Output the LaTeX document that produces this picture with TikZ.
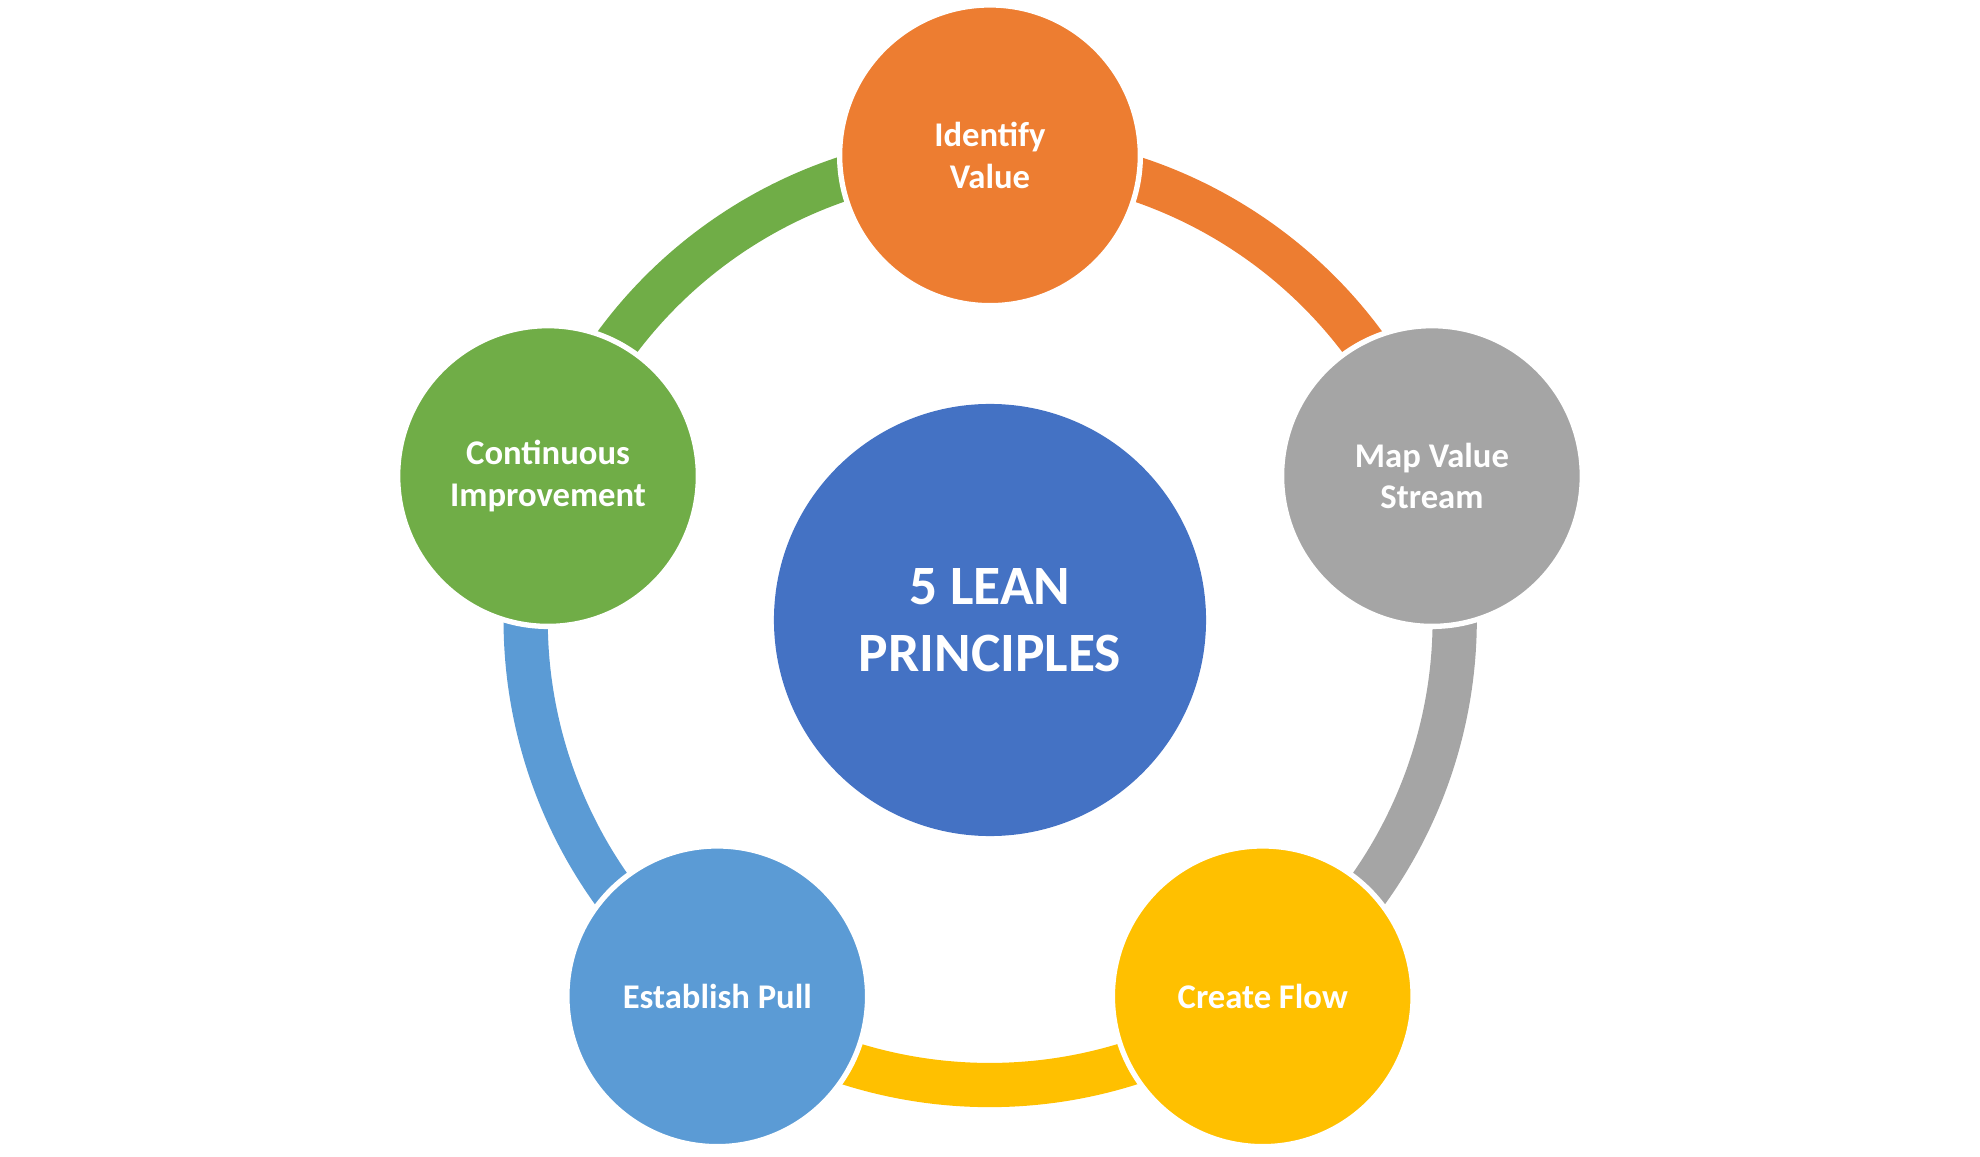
\documentclass[tikz,border=0pt]{standalone}
\usepackage{fontspec}
\setmainfont{Carlito}
\definecolor{cOr}{HTML}{ED7D31}
\definecolor{cGr}{HTML}{A5A5A5}
\definecolor{cYe}{HTML}{FFC000}
\definecolor{cBl}{HTML}{5B9BD5}
\definecolor{cGn}{HTML}{70AD47}
\definecolor{cCe}{HTML}{4472C4}
\begin{document}
\begin{tikzpicture}[x=0.01cm,y=-0.01cm,
  small/.style={circle,minimum size=2.38cm,inner sep=0pt,draw=white,line width=1.2pt,text=white,font=\bfseries\fontsize{7.8}{9.4}\selectfont,align=center},
  band/.style={line width=0.35cm}]
\useasboundingbox (0,0) rectangle (1568,916);
\coordinate (c) at (784,491);
\draw[band,cOr] (784,123) arc[start angle=-90,end angle=-18,radius=368];
\draw[band,cGr] (1134,377) arc[start angle=-18,end angle=54,radius=368];
\draw[band,cYe] (1000,789) arc[start angle=54,end angle=126,radius=368];
\draw[band,cBl] (568,789) arc[start angle=126,end angle=198,radius=368];
\draw[band,cGn] (434,377) arc[start angle=198,end angle=270,radius=368];
\node[small,fill=cOr] (iv) at (784,123) {Identify\\Value};
\node[small,fill=cGr] (mv) at (1134,377) {Map Value\\Stream};
\node[small,fill=cYe] (cf) at (1000,789) {Create Flow};
\node[small,fill=cBl] (ep) at (568,789) {Establish Pull};
\node[small,fill=cGn] (ci) at (434,377) {Continuous\\Improvement};
\node[circle,fill=cCe,minimum size=3.42cm,inner sep=0pt,text=white,align=center,font=\bfseries\fontsize{12.5}{15}\selectfont] (ce) at (c) {5 LEAN\\PRINCIPLES};
\end{tikzpicture}
\end{document}
